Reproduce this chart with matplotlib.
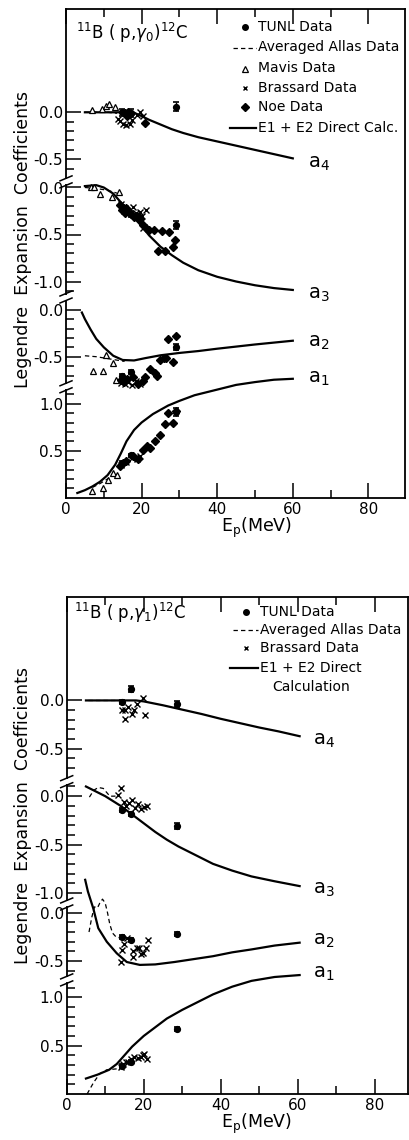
import matplotlib.pyplot as plt
from matplotlib.lines import Line2D

plt.rcParams['font.family'] = ['DejaVu Sans']
plt.rcParams['mathtext.fontset'] = 'dejavusans'

W, H = 410, 1140
COEFS = ['a4', 'a3', 'a2', 'a1']

# ---------------- 11B(p,gamma0)12C ----------------
g0_calc_a4_E = [5, 10, 15, 18, 20, 22, 25, 28, 31, 35, 40, 45, 50, 55, 60]
g0_calc_a4 = [0.0, 0.0, 0.0, -0.005, -0.04, -0.08, -0.13, -0.18, -0.22, -0.265, -0.31, -0.355, -0.40, -0.445, -0.49]
g0_calc_a3_E = [5, 8, 10, 12.5, 15, 17, 20, 22, 25, 28, 31, 35, 40, 45, 50, 55, 60]
g0_calc_a3 = [0.015, 0.025, 0.0, -0.065, -0.18, -0.28, -0.41, -0.51, -0.63, -0.72, -0.80, -0.88, -0.95, -1.0, -1.04, -1.07, -1.09]
g0_calc_a2_E = [4.2, 5, 6.5, 8, 10, 12.5, 15, 18, 21, 25, 30, 35, 40, 50, 60]
g0_calc_a2 = [-0.03, -0.1, -0.21, -0.31, -0.40, -0.49, -0.535, -0.54, -0.515, -0.485, -0.46, -0.44, -0.415, -0.37, -0.33]
g0_calc_a1_E = [3, 5, 7, 9, 11, 13, 14.5, 16, 18, 20, 23, 27, 30, 34, 40, 45, 50, 55, 60]
g0_calc_a1 = [0.05, 0.08, 0.12, 0.17, 0.24, 0.35, 0.47, 0.60, 0.72, 0.80, 0.89, 0.98, 1.03, 1.09, 1.15, 1.20, 1.23, 1.255, 1.265]

g0_allas_a4_E = [5, 8, 11, 13.5]
g0_allas_a4 = [0.0, 0.0, 0.0, -0.01]
g0_allas_a3_E = [5, 8, 11, 13.5]
g0_allas_a3 = [0.0, -0.01, -0.03, -0.06]
g0_allas_a2_E = [5, 8, 11, 14, 15.5]
g0_allas_a2 = [-0.49, -0.50, -0.52, -0.54, -0.55]
g0_allas_a1_E = [7, 9, 11, 13]
g0_allas_a1 = [0.11, 0.15, 0.20, 0.25]

g0_mavis_a4_E = [7.0, 9.5, 10.5, 11.5, 13.0]
g0_mavis_a4 = [0.02, 0.04, 0.07, 0.09, 0.06]
g0_mavis_a3_E = [6.5, 7.3, 9.0, 12.1, 13.9]
g0_mavis_a3 = [0.0, 0.0, -0.065, -0.10, -0.045]
g0_mavis_a2_E = [7.1, 9.7, 10.6, 12.5, 13.2]
g0_mavis_a2 = [-0.65, -0.65, -0.485, -0.57, -0.75]
g0_mavis_a1_E = [6.8, 9.7, 11.0, 12.5, 13.6]
g0_mavis_a1 = [0.07, 0.105, 0.19, 0.26, 0.24]

g0_brassard_a4_E = [13.8, 14.3, 15.0, 15.9, 16.8, 17.4, 18.9, 19.6, 20.3]
g0_brassard_a4 = [-0.07, -0.09, -0.125, -0.135, -0.125, -0.08, -0.03, 0.0, -0.04]
g0_brassard_a3_E = [14.5, 15.5, 16.5, 17.8, 18.5, 19.6, 20.2, 21.2, 19.0, 20.5]
g0_brassard_a3 = [-0.18, -0.22, -0.25, -0.205, -0.27, -0.26, -0.30, -0.235, -0.31, -0.435]
g0_brassard_a2_E = [14.5, 15.5, 16.5, 17.5, 18.5, 19.5]
g0_brassard_a2 = [-0.78, -0.79, -0.77, -0.80, -0.76, -0.79]
g0_brassard_a1_E = [14.5, 16.0, 17.5, 18.7, 19.6]
g0_brassard_a1 = [0.35, 0.38, 0.42, 0.41, 0.44]

g0_noe_a4_E = [15.6, 16.2, 17.0, 16.5, 20.9]
g0_noe_a4 = [-0.01, -0.035, -0.02, 0.0, -0.11]
g0_noe_a3_E = [14.2, 14.8, 15.5, 16.0, 17.2, 18.0, 18.8, 19.6, 20.5, 21.2, 22.0, 23.2, 25.3, 27.3, 28.8, 28.2, 24.4, 26.2]
g0_noe_a3 = [-0.19, -0.24, -0.27, -0.22, -0.28, -0.31, -0.30, -0.33, -0.40, -0.43, -0.45, -0.45, -0.46, -0.47, -0.56, -0.63, -0.675, -0.68]
g0_noe_a2_E = [14.5, 15.3, 16.2, 17.8, 19.0, 20.3, 21.0, 22.1, 23.5, 24.0, 24.9, 25.8, 26.4, 27.1, 29.1, 28.2]
g0_noe_a2 = [-0.75, -0.77, -0.74, -0.72, -0.79, -0.76, -0.72, -0.63, -0.67, -0.71, -0.53, -0.51, -0.51, -0.31, -0.285, -0.56]
g0_noe_a1_E = [14.3, 15.0, 16.0, 17.8, 19.1, 20.5, 21.3, 22.2, 23.5, 24.9, 26.2, 27.1, 28.4, 29.1]
g0_noe_a1 = [0.34, 0.37, 0.39, 0.44, 0.41, 0.51, 0.55, 0.53, 0.60, 0.67, 0.78, 0.90, 0.80, 0.92]

g0_tunl_E = [14.7, 17.2, 29.2]
g0_tunl_a4 = [0.0, -0.01, 0.06]
g0_tunl_a4_err = [0.04, 0.04, 0.05]
g0_tunl_a3 = [-0.22, -0.28, -0.40]
g0_tunl_a3_err = [0.03, 0.03, 0.04]
g0_tunl_a2 = [-0.70, -0.66, -0.40]
g0_tunl_a2_err = [0.02, 0.02, 0.03]
g0_tunl_a1 = [0.37, 0.45, 0.91]
g0_tunl_a1_err = [0.02, 0.02, 0.04]

# ---------------- 11B(p,gamma1)12C ----------------
g1_calc_a4_E = [5, 10, 15, 18, 20, 25, 30, 35, 40, 45, 50, 55, 60.5]
g1_calc_a4 = [0.0, 0.0, 0.0, 0.0, -0.01, -0.05, -0.095, -0.14, -0.19, -0.235, -0.28, -0.32, -0.37]
g1_calc_a3_E = [5, 7, 10, 14, 17, 20, 23, 26, 29, 33, 38, 43, 48, 54, 60.5]
g1_calc_a3 = [0.10, 0.06, 0.0, -0.10, -0.19, -0.28, -0.37, -0.45, -0.52, -0.60, -0.70, -0.77, -0.83, -0.88, -0.93]
g1_calc_a2_E = [4.8, 5.5, 6.9, 8.2, 10.4, 13, 15.6, 19, 23, 28, 33, 38, 43, 48, 54, 60.5]
g1_calc_a2 = [0.34, 0.22, 0.045, -0.16, -0.30, -0.42, -0.51, -0.54, -0.535, -0.51, -0.48, -0.45, -0.41, -0.38, -0.34, -0.31]
g1_calc_a1_E = [5, 8, 11, 13, 15, 17, 20, 23, 26, 30, 34, 38, 43, 48, 54, 60.5]
g1_calc_a1 = [0.16, 0.20, 0.25, 0.31, 0.40, 0.49, 0.60, 0.69, 0.78, 0.87, 0.95, 1.03, 1.11, 1.17, 1.21, 1.23]

g1_allas_a4_E = [5.5, 9, 12, 14.5]
g1_allas_a4 = [0.0, 0.0, 0.0, 0.0]
g1_allas_a3_E = [5.9, 7.0, 8.2, 9.5, 11.2, 12.5, 13.8]
g1_allas_a3 = [-0.01, 0.06, 0.09, 0.08, 0.0, 0.0, 0.02]
g1_allas_a2_E = [5.8, 6.5, 7.2, 8.0, 8.6, 9.3, 10.0, 10.6, 11.2, 11.9, 12.8, 13.8]
g1_allas_a2 = [-0.20, -0.05, 0.06, 0.05, 0.10, 0.14, 0.10, 0.0, -0.12, -0.21, -0.25, -0.26]
g1_allas_a1_E = [5.3, 7.0, 8.6, 10.4, 13.0]
g1_allas_a1 = [0.0, 0.12, 0.21, 0.25, 0.26]

g1_brassard_a4_E = [14.3, 15.1, 15.1, 16.0, 16.9, 17.5, 18.2, 19.7, 20.3]
g1_brassard_a4 = [-0.10, -0.10, -0.19, -0.07, -0.14, -0.10, -0.035, 0.03, -0.155]
g1_brassard_a3_E = [13.4, 14.0, 14.8, 15.5, 16.2, 17.0, 17.8, 18.6, 19.4, 20.2, 20.8]
g1_brassard_a3 = [0.01, 0.08, -0.06, -0.10, -0.07, -0.04, -0.12, -0.08, -0.13, -0.11, -0.10]
g1_brassard_a2_E = [14.0, 14.3, 14.9, 15.6, 17.1, 17.3, 18.2, 18.8, 19.2, 19.8, 20.6, 21.0]
g1_brassard_a2 = [-0.51, -0.39, -0.32, -0.265, -0.40, -0.455, -0.37, -0.37, -0.43, -0.42, -0.37, -0.28]
g1_brassard_a1_E = [14.0, 14.6, 15.3, 16.0, 16.6, 17.5, 18.4, 19.2, 20.1, 20.8, 19.7]
g1_brassard_a1 = [0.28, 0.31, 0.33, 0.335, 0.36, 0.38, 0.37, 0.38, 0.41, 0.36, 0.40]

g1_tunl_E = [14.4, 16.7, 28.6]
g1_tunl_a4 = [-0.02, 0.12, -0.04]
g1_tunl_a4_err = [0.02, 0.03, 0.03]
g1_tunl_a3 = [-0.145, -0.18, -0.31]
g1_tunl_a3_err = [0.02, 0.02, 0.03]
g1_tunl_a2 = [-0.25, -0.28, -0.22]
g1_tunl_a2_err = [0.02, 0.02, 0.02]
g1_tunl_a1 = [0.29, 0.33, 0.67]
g1_tunl_a1_err = [0.02, 0.02, 0.02]

x_major = [0, 20, 40, 60, 80]
x_minor = [10, 30, 50, 70]
y_major_labels = {0.0: '0.0', -0.5: '-0.5', -1.0: '-1.0', 0.5: '0.5', 1.0: '1.0'}


def fpos(x, y):
    return x / W, 1 - y / H


def spine_break(ax, yb, ppu, wpx):
    # cut the left spine and mark the gap with two slanted strokes
    tr = ax.get_yaxis_transform()
    sx = 1.0 / wpx
    sy = 1.0 / ppu
    ax.plot([0, 0], [yb - 2.5 * sy, yb + 2.5 * sy], color='white', lw=3,
            transform=tr, clip_on=False, zorder=6, solid_capstyle='butt')
    for d in (-3.5, 3.5):
        ax.plot([-6 * sx, 6 * sx], [yb + (d - 2.5) * sy, yb + (d + 2.5) * sy],
                color='black', lw=1.1, transform=tr, clip_on=False, zorder=7)


def draw_panel(ax, offs, calc, allas, tunl, others, tick_ranges, breaks,
               xmax, ymax, ppu, wpx, labels_y):
    for c in COEFS:
        o = offs[c]
        E, v = calc[c]
        ax.plot(E, [o + y for y in v], color='black', lw=1.6, zorder=3)
        E, v = allas[c]
        ax.plot(E, [o + y for y in v], color='black', lw=0.9,
                ls=(0, (3.5, 2.5)), zorder=3)
        for (E, v), kw in others[c]:
            ax.plot(E, [o + y for y in v], ls='none', zorder=4, **kw)
        E, v, err = tunl[c]
        ax.errorbar(E, [o + y for y in v], yerr=err, fmt='o', ms=4.2,
                    color='black', elinewidth=1.0, capsize=2.5, capthick=1.2,
                    zorder=5)
        ax.text(64.0, o + calc[c][1][-1] + labels_y[c], r'$\mathregular{a_%s}$' % c[1],
                fontsize=14, va='center', ha='left')

    # stacked y axis: each coefficient gets its own tick run
    major, minor, labs = [], [], []
    for c in COEFS:
        lo, hi = tick_ranges[c]
        for k in range(int(round(lo * 10)), int(round(hi * 10)) + 1):
            val = k / 10.0
            if val == 0.0 and c == 'a1':
                continue
            pos = offs[c] + val
            if val in y_major_labels:
                major.append(pos)
                labs.append(y_major_labels[val])
            else:
                minor.append(pos)
    ax.set_yticks(major)
    ax.set_yticklabels(labs)
    ax.set_yticks(minor, minor=True)
    ax.set_xticks(x_major)
    ax.set_xticklabels([str(x) for x in x_major])
    ax.set_xticks(x_minor, minor=True)

    ax.set_xlim(0, xmax)
    ax.set_ylim(0, ymax)
    ax.tick_params(which='both', direction='in', top=True, right=False,
                   labelsize=11, width=1.1, pad=3)
    ax.tick_params(which='major', length=11)
    ax.tick_params(which='minor', length=6)
    ax.tick_params(axis='y', pad=2)
    for s in ax.spines.values():
        s.set_linewidth(1.3)
    for yb in breaks:
        spine_break(ax, yb, ppu, wpx)


fig = plt.figure(figsize=(W / 100, H / 100), dpi=100)

# ---- upper panel ----
l, r, t, b = 66, 405, 9.3, 497.7
ax0 = fig.add_axes([l / W, 1 - b / H, (r - l) / W, (b - t) / H])
offs0 = {'a4': 4.1, 'a3': 3.3, 'a2': 2.0, 'a1': 0.0}
calc0 = {'a4': (g0_calc_a4_E, g0_calc_a4), 'a3': (g0_calc_a3_E, g0_calc_a3),
         'a2': (g0_calc_a2_E, g0_calc_a2), 'a1': (g0_calc_a1_E, g0_calc_a1)}
allas0 = {'a4': (g0_allas_a4_E, g0_allas_a4), 'a3': (g0_allas_a3_E, g0_allas_a3),
          'a2': (g0_allas_a2_E, g0_allas_a2), 'a1': (g0_allas_a1_E, g0_allas_a1)}
tunl0 = {'a4': (g0_tunl_E, g0_tunl_a4, g0_tunl_a4_err),
         'a3': (g0_tunl_E, g0_tunl_a3, g0_tunl_a3_err),
         'a2': (g0_tunl_E, g0_tunl_a2, g0_tunl_a2_err),
         'a1': (g0_tunl_E, g0_tunl_a1, g0_tunl_a1_err)}
mk_mavis = dict(marker='^', ms=4.5, mfc='white', mec='black', mew=0.9)
mk_brassard = dict(marker='x', ms=4, color='black', mew=1.0)
mk_noe = dict(marker='D', ms=4.2, color='black')
others0 = {
    'a4': [((g0_mavis_a4_E, g0_mavis_a4), mk_mavis), ((g0_brassard_a4_E, g0_brassard_a4), mk_brassard),
           ((g0_noe_a4_E, g0_noe_a4), mk_noe)],
    'a3': [((g0_mavis_a3_E, g0_mavis_a3), mk_mavis), ((g0_brassard_a3_E, g0_brassard_a3), mk_brassard),
           ((g0_noe_a3_E, g0_noe_a3), mk_noe)],
    'a2': [((g0_mavis_a2_E, g0_mavis_a2), mk_mavis), ((g0_brassard_a2_E, g0_brassard_a2), mk_brassard),
           ((g0_noe_a2_E, g0_noe_a2), mk_noe)],
    'a1': [((g0_mavis_a1_E, g0_mavis_a1), mk_mavis), ((g0_brassard_a1_E, g0_brassard_a1), mk_brassard),
           ((g0_noe_a1_E, g0_noe_a1), mk_noe)],
}
ticks0 = {'a4': (-0.6, 0.0), 'a3': (-1.1, 0.0), 'a2': (-0.7, 0.0), 'a1': (0.0, 1.1)}
draw_panel(ax0, offs0, calc0, allas0, tunl0, others0, ticks0, [3.36, 2.135, 1.18],
           (r - l) / 3.78, (b - t) / 94.0, 94.0, r - l,
           {'a4': -0.05, 'a3': -0.05, 'a2': -0.02, 'a1': 0.0})

# ---- lower panel ----
l, r, t, b = 66.7, 408, 596.7, 1094
ax1 = fig.add_axes([l / W, 1 - b / H, (r - l) / W, (b - t) / H])
offs1 = {'a4': 4.07, 'a3': 3.08, 'a2': 1.875, 'a1': 0.0}
calc1 = {'a4': (g1_calc_a4_E, g1_calc_a4), 'a3': (g1_calc_a3_E, g1_calc_a3),
         'a2': (g1_calc_a2_E, g1_calc_a2), 'a1': (g1_calc_a1_E, g1_calc_a1)}
allas1 = {'a4': (g1_allas_a4_E, g1_allas_a4), 'a3': (g1_allas_a3_E, g1_allas_a3),
          'a2': (g1_allas_a2_E, g1_allas_a2), 'a1': (g1_allas_a1_E, g1_allas_a1)}
tunl1 = {'a4': (g1_tunl_E, g1_tunl_a4, g1_tunl_a4_err),
         'a3': (g1_tunl_E, g1_tunl_a3, g1_tunl_a3_err),
         'a2': (g1_tunl_E, g1_tunl_a2, g1_tunl_a2_err),
         'a1': (g1_tunl_E, g1_tunl_a1, g1_tunl_a1_err)}
others1 = {
    'a4': [((g1_brassard_a4_E, g1_brassard_a4), mk_brassard)],
    'a3': [((g1_brassard_a3_E, g1_brassard_a3), mk_brassard)],
    'a2': [((g1_brassard_a2_E, g1_brassard_a2), mk_brassard)],
    'a1': [((g1_brassard_a1_E, g1_brassard_a1), mk_brassard)],
}
ticks1 = {'a4': (-0.7, 0.0), 'a3': (-1.0, 0.1), 'a2': (-0.6, 0.0), 'a1': (0.0, 1.1)}
draw_panel(ax1, offs1, calc1, allas1, tunl1, others1, ticks1, [3.23, 1.965, 1.18],
           (r - l) / 3.85, (b - t) / 96.7, 96.7, r - l,
           {'a4': -0.04, 'a3': -0.04, 'a2': 0.02, 'a1': 0.02})

# ---- titles, legends, axis labels ----
fs = 10


def legend_row(y, text, kind, x_mark=245, x_text=258):
    xm, ym = fpos(x_mark, y)
    if kind == 'tunl':
        fig.add_artist(Line2D([xm], [ym], marker='o', ms=4, color='black',
                              transform=fig.transFigure))
    elif kind == 'mavis':
        fig.add_artist(Line2D([xm], [ym], marker='^', ms=4, mfc='white', mec='black',
                              mew=0.9, transform=fig.transFigure))
    elif kind == 'brassard':
        fig.add_artist(Line2D([xm], [ym], marker='x', ms=3.5, color='black', mew=1.0,
                              transform=fig.transFigure))
    elif kind == 'noe':
        fig.add_artist(Line2D([xm], [ym], marker='D', ms=4.0, color='black',
                              transform=fig.transFigure))
    elif kind == 'allas':
        x0, _ = fpos(233, y)
        x1, _ = fpos(x_text - 2, y)
        fig.add_artist(Line2D([x0, x1], [ym, ym], color='black', lw=0.9,
                              ls=(0, (3.5, 2.5)), transform=fig.transFigure))
    elif kind == 'calc':
        x0, _ = fpos(230, y)
        x1, _ = fpos(x_text - 2, y)
        fig.add_artist(Line2D([x0, x1], [ym, ym], color='black', lw=1.6,
                              transform=fig.transFigure))
    xt, yt = fpos(x_text, y)
    fig.text(xt, yt, text, fontsize=fs, va='center', ha='left')


fig.text(*fpos(76, 33), r'$^{11}$B ( p,$\gamma_0$)$^{12}$C', fontsize=12, va='center')
for y, txt, kind in [(26.7, 'TUNL Data', 'tunl'),
                     (47.5, 'Averaged Allas Data', 'allas'),
                     (68.5, 'Mavis Data', 'mavis'),
                     (88.0, 'Brassard Data', 'brassard'),
                     (107.0, 'Noe Data', 'noe'),
                     (128.3, 'E1 + E2 Direct Calc.', 'calc')]:
    legend_row(y, txt, kind)

fig.text(*fpos(74, 613), r'$^{11}$B ( p,$\gamma_1$)$^{12}$C', fontsize=12, va='center')
for y, txt, kind in [(611.7, 'TUNL Data', 'tunl'),
                     (630.0, 'Averaged Allas Data', 'allas'),
                     (648.3, 'Brassard Data', 'brassard'),
                     (668.3, 'E1 + E2 Direct', 'calc')]:
    legend_row(y, txt, kind, x_mark=246, x_text=260)
fig.text(*fpos(272, 686.7), 'Calculation', fontsize=fs, va='center', ha='left')

for yc in (240, 815):
    fig.text(*fpos(23, yc), 'Legendre  Expansion  Coefficients', rotation=90,
             fontsize=12.5, va='center', ha='center')
fig.text(*fpos(256, 528), r'E$_\mathregular{p}$(MeV)', fontsize=12.5, va='center', ha='center')
fig.text(*fpos(256, 1124), r'E$_\mathregular{p}$(MeV)', fontsize=12.5, va='center', ha='center')

fig.savefig('out.png', dpi=100, facecolor='white')
